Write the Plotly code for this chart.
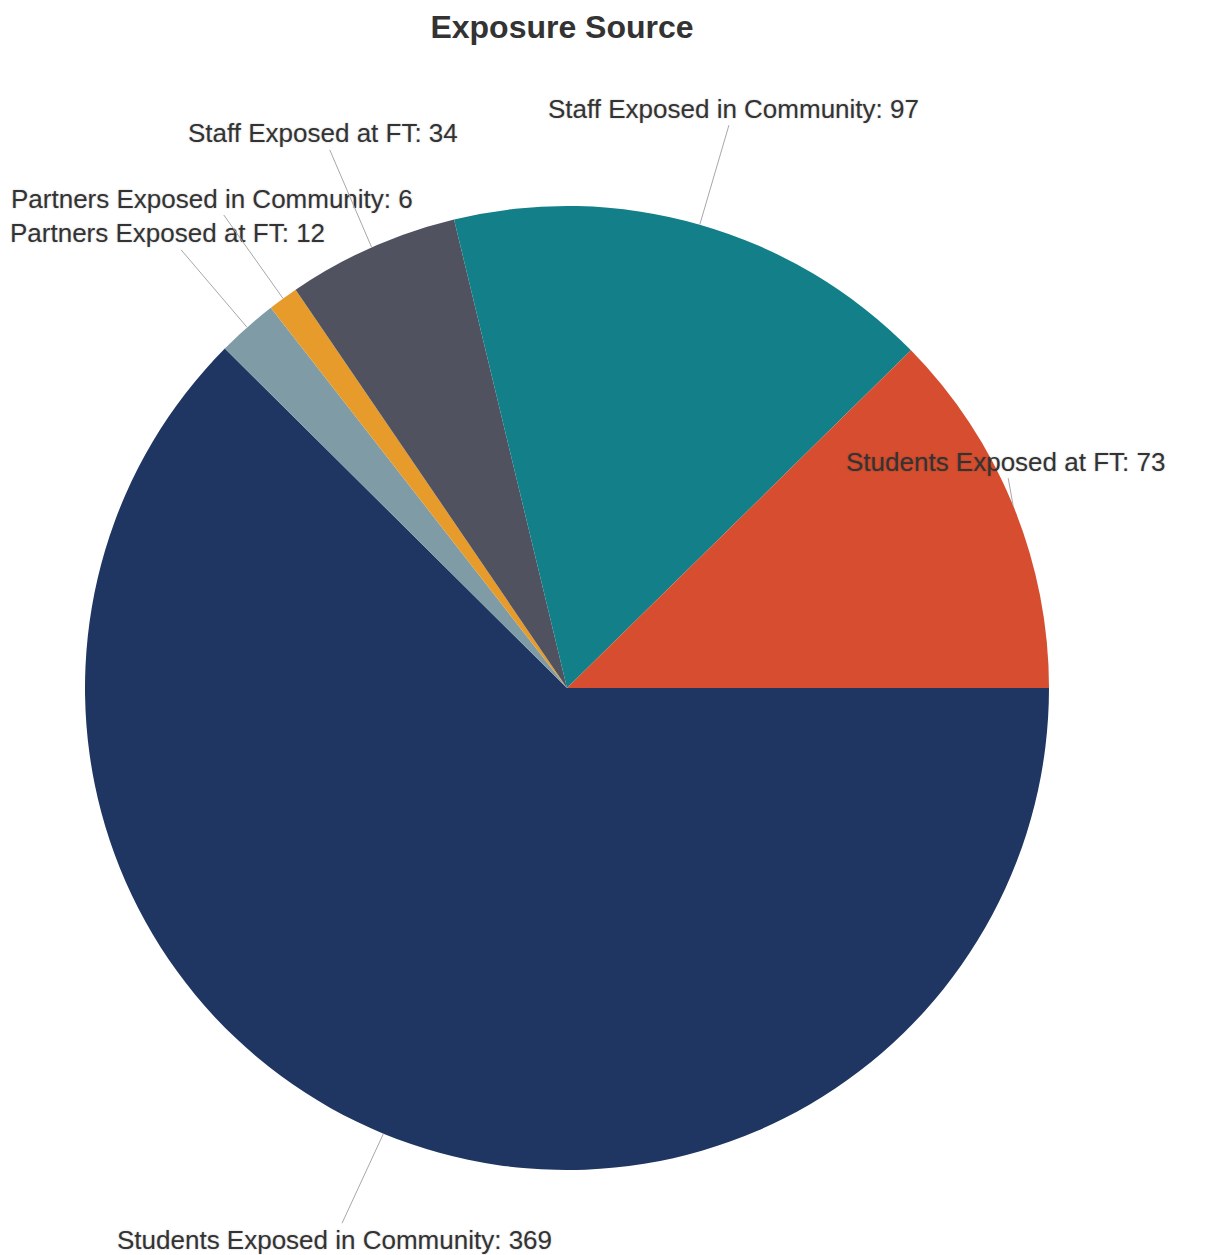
import math
import plotly.graph_objects as go

# Exposure counts (clockwise from 3 o'clock)
labels = [
    "Students Exposed in Community",
    "Partners Exposed at FT",
    "Partners Exposed in Community",
    "Staff Exposed at FT",
    "Staff Exposed in Community",
    "Students Exposed at FT",
]
values = [369, 12, 6, 34, 97, 73]
colors = ["#1f3662", "#7f9ca6", "#e79b2b", "#50535f", "#127f89", "#d64e2f"]

# label offsets from the slice edge, in pixels (dx, dy)
label_offsets = [(-49, 106), (-80, -94), (-71, -100), (-49, -114), (34, -116), (-8, -44)]

W, H = 1225, 1255
CX, CY, R = 567, 688, 482  # pie centre / radius in pixels
ROTATION = 90

fig = go.Figure()

fig.add_trace(go.Pie(
    labels=labels,
    values=values,
    sort=False,
    direction="clockwise",
    rotation=ROTATION,
    textinfo="none",
    hoverinfo="label+value",
    marker=dict(colors=colors, line=dict(width=0)),
    domain=dict(x=[(CX - R) / W, (CX + R) / W],
                y=[(H - CY - R) / H, (H - CY + R) / H]),
    showlegend=False,
))

# connector labels like the original chart
total = sum(values)
start = 90 - ROTATION  # degrees, standard orientation
cum = 0
for lab, val, (dx, dy) in zip(labels, values, label_offsets):
    mid = start - (cum + val / 2) / total * 360
    cum += val
    px_ = CX + R * math.cos(math.radians(mid))
    py_ = CY - R * math.sin(math.radians(mid))
    fig.add_annotation(
        x=px_ / W, y=1 - py_ / H, xref="paper", yref="paper",
        ax=dx, ay=dy,
        text=f"{lab}: {val}",
        showarrow=True, arrowhead=0, arrowwidth=1, arrowcolor="#a8a8a8",
        standoff=0,
        font=dict(family="Liberation Sans, Arial", size=26, color="#333333",
                  shadow="0px 0px 2px rgba(0,0,0,0.25)"),
    )

fig.update_layout(
    title=dict(
        text="<b>Exposure Source</b>",
        x=562 / W, y=1 - 27 / H,
        xanchor="center", yanchor="middle",
        font=dict(family="Liberation Sans, Arial", size=32, color="#333333"),
    ),
    width=W,
    height=H,
    margin=dict(l=0, r=0, t=0, b=0),
    paper_bgcolor="white",
    plot_bgcolor="white",
)

fig.write_html("out.html", config={"displayModeBar": False},
               post_script="document.body.style.margin='0px';")
